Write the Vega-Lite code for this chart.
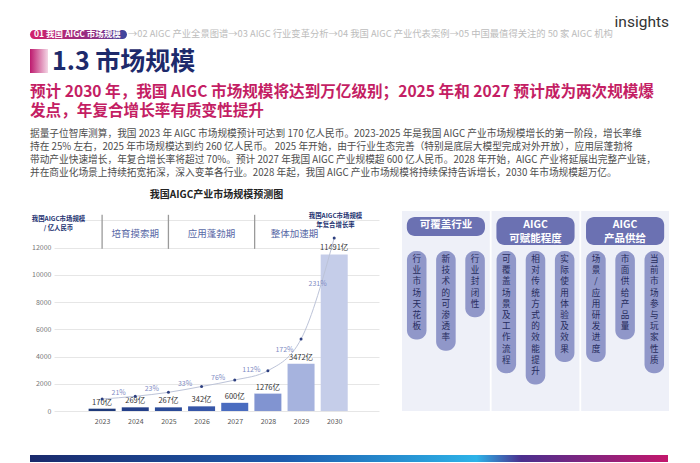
{
  "$schema": "https://vega.github.io/schema/vega-lite/v6.json",
  "background": "white",
  "padding": {"left": 30, "top": 14, "right": 30, "bottom": 0},
  "config": {
    "font": "Noto Sans CJK SC",
    "view": {"stroke": null},
    "axis": {"labelFont": "Noto Sans CJK SC", "titleFont": "Noto Sans CJK SC", "labelOverlap": false, "labelBound": false, "labelFlush": false},
    "axisY": {"labelOverlap": false},
    "title": {"font": "Noto Sans CJK SC"}
  },
  "datasets": {
    "market": [
      {"year": 2023, "size": 170, "label": "170亿", "trend": 880},
      {"year": 2024, "size": 269, "label": "269亿", "trend": 1080},
      {"year": 2025, "size": 267, "label": "267亿", "trend": 1370},
      {"year": 2026, "size": 342, "label": "342亿", "trend": 1800},
      {"year": 2027, "size": 600, "label": "600亿", "trend": 2270},
      {"year": 2028, "size": 1276, "label": "1276亿", "trend": 2960},
      {"year": 2029, "size": 3472, "label": "3472亿", "trend": 5280},
      {"year": 2030, "size": 11491, "label": "11491亿", "trend": 12700}
    ],
    "growth": [
      {"from": 2023, "to": 2024, "rate": "21%"},
      {"from": 2024, "to": 2025, "rate": "23%"},
      {"from": 2025, "to": 2026, "rate": "33%"},
      {"from": 2026, "to": 2027, "rate": "76%"},
      {"from": 2027, "to": 2028, "rate": "112%"},
      {"from": 2028, "to": 2029, "rate": "172%"},
      {"from": 2029, "to": 2030, "rate": "231%"}
    ],
    "phases": [
      {"phase": "培育摸索期", "start": 2023, "end": 2025},
      {"phase": "应用蓬勃期", "start": 2025, "end": 2027.6},
      {"phase": "整体加速期", "start": 2027.6, "end": 2030}
    ],
    "panels": [
      {"panel": "可覆盖行业", "head": ["可覆盖行业"]},
      {"panel": "AIGC可赋能程度", "head": ["AIGC", "可赋能程度"]},
      {"panel": "AIGC产品供给", "head": ["AIGC", "产品供给"]}
    ],
    "factors": [
      {"panel": "可覆盖行业", "k": 1, "factor": "行业市场天花板"},
      {"panel": "可覆盖行业", "k": 2, "factor": "新技术的可渗透率"},
      {"panel": "可覆盖行业", "k": 3, "factor": "行业封闭性"},
      {"panel": "AIGC可赋能程度", "k": 1, "factor": "可覆盖场景及工作流程"},
      {"panel": "AIGC可赋能程度", "k": 2, "factor": "相对传统方式的效能提升"},
      {"panel": "AIGC可赋能程度", "k": 3, "factor": "实际使用体验及效果"},
      {"panel": "AIGC产品供给", "k": 1, "factor": "场景/应用研发进度"},
      {"panel": "AIGC产品供给", "k": 2, "factor": "市面供给产品量"},
      {"panel": "AIGC产品供给", "k": 3, "factor": "当前市场参与玩家性质"}
    ]
  },
  "title": {"text": "insights", "anchor": "end", "font": "Roboto", "fontSize": 15.5, "fontWeight": "normal", "color": "#333333", "offset": 0},
  "spacing": 5,
  "vconcat": [
    {
      "width": 194,
      "height": 14,
      "data": {"values": [
        {"part": "cur", "kind": "nav", "text": "01 我国 AIGC 市场规模"},
        {"part": "rest", "kind": "nav", "text": "→02 AIGC 产业全景图谱→03 AIGC 行业变革分析→04 我国 AIGC 产业代表案例→05 中国最值得关注的 50 家 AIGC 机构"}
      ]},
      "encoding": {
        "y": {"field": "kind", "type": "nominal", "axis": null, "scale": {"paddingOuter": 0.278, "paddingInner": 0, "align": 0}}
      },
      "layer": [
        {
          "transform": [{"filter": "datum.part === 'cur'"}],
          "mark": {"type": "bar", "cornerRadius": 4.5, "color": {"gradient": "linear", "x1": 0, "x2": 1, "y1": 0, "y2": 0, "stops": [{"offset": 0, "color": "#d3226b"}, {"offset": 0.7, "color": "#8a2f86"}, {"offset": 1, "color": "#3a48a0"}]}},
          "encoding": {"x": {"field": "part", "type": "nominal", "sort": ["cur", "rest"], "axis": null, "scale": {"domain": ["cur", "rest"], "paddingInner": 0, "paddingOuter": 0}}}
        },
        {
          "transform": [{"filter": "datum.part === 'cur'"}],
          "mark": {"type": "text", "align": "left", "baseline": "middle", "dx": 4, "color": "white", "fontWeight": "bold", "fontSize": 8.5},
          "encoding": {"x": {"field": "part", "type": "nominal", "bandPosition": 0, "axis": null, "scale": {"domain": ["cur", "rest"], "paddingInner": 0, "paddingOuter": 0}}, "text": {"field": "text", "type": "nominal"}}
        },
        {
          "transform": [{"filter": "datum.part === 'rest'"}],
          "mark": {"type": "text", "align": "left", "baseline": "middle", "dx": 1, "color": "#bcbcbc", "fontSize": 9.3},
          "encoding": {"x": {"field": "part", "type": "nominal", "bandPosition": 0, "axis": null, "scale": {"domain": ["cur", "rest"], "paddingInner": 0, "paddingOuter": 0}}, "text": {"field": "text", "type": "nominal"}}
        }
      ]
    },
    {
      "width": 18,
      "height": 31,
      "data": {"values": [{"title": "1.3 市场规模"}]},
      "encoding": {
        "y": {"field": "title", "type": "nominal", "axis": null, "scale": {"paddingOuter": 0.1458, "paddingInner": 0, "align": 0}}
      },
      "layer": [
        {"mark": {"type": "bar", "color": {"gradient": "linear", "x1": 0, "x2": 1, "y1": 0, "y2": 0, "stops": [{"offset": 0, "color": "#bd1a6e"}, {"offset": 1, "color": "#f4d6e5"}]}},
         "encoding": {"x": {"field": "title", "type": "nominal", "axis": null, "scale": {"paddingInner": 0, "paddingOuter": 0}}}},
        {"mark": {"type": "text", "align": "left", "baseline": "middle", "dx": 4, "dy": 1, "fontSize": 25, "fontWeight": "bold", "color": "#1d2a6b"},
         "encoding": {"x": {"field": "title", "type": "nominal", "bandPosition": 1, "axis": null}, "text": {"field": "title", "type": "nominal"}}}
      ]
    },
    {
      "title": {
        "text": ["预计 2030 年，我国 AIGC 市场规模将达到万亿级别；2025 年和 2027 预计成为两次规模爆", "发点，年复合增长率有质变性提升"],
        "subtitle": [
          "据量子位智库测算，我国 2023 年 AIGC 市场规模预计可达到 170 亿人民币。2023-2025 年是我国 AIGC 产业市场规模增长的第一阶段，增长率维",
          "持在 25% 左右，2025 年市场规模达到约 260 亿人民币。 2025 年开始，由于行业生态完善（特别是底层大模型完成对外开放），应用层蓬勃将",
          "带动产业快速增长，年复合增长率将超过 70%。预计 2027 年我国 AIGC 产业规模超 600 亿人民币。2028 年开始，AIGC 产业将延展出完整产业链，",
          "并在商业化场景上持续拓宽拓深，深入变革各行业。2028 年起，我国 AIGC 产业市场规模将持续保持告诉增长，2030 年市场规模超万亿。"
        ],
        "anchor": "start",
        "fontSize": 15.6,
        "fontWeight": "bold",
        "color": "#c41e64",
        "lineHeight": 19,
        "subtitleFontSize": 9.7,
        "subtitleColor": "#4d4d4d",
        "subtitleLineHeight": 13.2,
        "subtitlePadding": 9,
        "offset": 12
      },
      "spacing": 0,
      "hconcat": [
        {
          "width": 1,
          "height": 1,
          "data": {"values": [{"gap": 0}]},
          "mark": {"type": "point", "size": 0, "opacity": 0},
          "encoding": {}
        },
        {
          "spacing": 23,
          "hconcat": [
            {
              "width": 325,
              "height": 200,
              "title": {"text": "我国AIGC产业市场规模预测图", "fontSize": 10, "fontWeight": "bold", "color": "#222222", "anchor": "middle", "offset": 11},
              "layer": [
                {
                  "layer": [
                    {
                      "data": {"name": "market"},
                      "mark": {"type": "bar", "size": 27},
                      "encoding": {
                        "x": {"field": "year", "type": "quantitative", "scale": {"domain": [2021.7, 2031.2], "nice": false, "zero": false},
                          "axis": {"values": [2023, 2024, 2025, 2026, 2027, 2028, 2029, 2030], "tickCount": 20, "format": "d", "title": null, "grid": false, "domain": false, "ticks": false, "labelColor": "#555555", "labelFontSize": 7, "labelPadding": 6}},
                        "y": {"field": "size", "type": "quantitative", "scale": {"domain": [0, 14680], "nice": false},
                          "axis": {"values": [0, 2000, 4000, 6000, 8000, 10000, 12000, 14000], "tickCount": 20, "format": "d", "labelOverlap": false,
                            "labelColor": {"condition": {"test": "datum.value > 12000", "value": "transparent"}, "value": "#777777"},
                            "title": ["我国AIGC市场规模", "/ 亿人民币"], "titleAngle": 0, "titleAlign": "center", "titleBaseline": "top", "titleX": 4, "titleY": 4,
                            "titleFontSize": 6.4, "titleFontWeight": "bold", "titleColor": "#233271", "titleLineHeight": 9,
                            "grid": true, "gridColor": "#e6e6e6", "domain": false, "ticks": false, "labelFontSize": 7, "labelPadding": 3}},
                        "color": {"field": "year", "type": "ordinal", "legend": null,
                          "scale": {"range": ["#1f3a7a", "#24408a", "#2b4b98", "#3656a8", "#4a6cc0", "#8194d1", "#a6b3de", "#c5cde9"]}}
                      }
                    },
                    {
                      "data": {"name": "market"},
                      "mark": {"type": "text", "baseline": "bottom", "dy": -2, "fontSize": 7.5, "color": "#333333"},
                      "encoding": {
                        "x": {"field": "year", "type": "quantitative"},
                        "y": {"field": "size", "type": "quantitative"},
                        "text": {"field": "label", "type": "nominal"}
                      }
                    },
                    {
                      "data": {"name": "phases"},
                      "mark": {"type": "rule", "color": "#9a9a9a", "strokeWidth": 1.3},
                      "encoding": {
                        "x": {"field": "start", "type": "quantitative"},
                        "y": {"datum": 14400, "type": "quantitative"},
                        "y2": {"datum": 11900}
                      }
                    },
                    {
                      "data": {"name": "phases"},
                      "transform": [{"fold": ["start", "end"], "as": ["edge", "pos"]}],
                      "mark": {"type": "text", "fontSize": 9.5, "color": "#5868a6", "baseline": "middle"},
                      "encoding": {
                        "x": {"aggregate": "mean", "field": "pos", "type": "quantitative"},
                        "y": {"datum": 13000, "type": "quantitative"},
                        "text": {"field": "phase", "type": "nominal"}
                      }
                    }
                  ]
                },
                {
                  "layer": [
                    {
                      "data": {"name": "market"},
                      "mark": {"type": "line", "interpolate": "monotone", "color": "#bcc3d8", "strokeWidth": 1},
                      "encoding": {
                        "x": {"field": "year", "type": "quantitative"},
                        "y": {"field": "trend", "type": "quantitative", "scale": {"domain": [0, 14680], "nice": false},
                          "axis": {"orient": "right", "title": ["我国AIGC市场规模", "年复合增长率"], "labels": false, "ticks": false, "domain": false, "grid": false,
                            "titleAngle": 0, "titleAlign": "center", "titleBaseline": "top", "titleX": -44, "titleY": 1,
                            "titleFontSize": 6.4, "titleFontWeight": "bold", "titleColor": "#233271", "titleLineHeight": 9}}
                      }
                    },
                    {
                      "data": {"name": "market"},
                      "mark": {"type": "point", "filled": true, "size": 9, "color": "#2d3f7f", "opacity": 1},
                      "encoding": {
                        "x": {"field": "year", "type": "quantitative"},
                        "y": {"field": "trend", "type": "quantitative"}
                      }
                    },
                    {
                      "data": {"name": "growth"},
                      "transform": [
                        {"fold": ["from", "to"], "as": ["end", "yr"]},
                        {"lookup": "yr", "from": {"data": {"name": "market"}, "key": "year", "fields": ["trend"]}}
                      ],
                      "mark": {"type": "text", "fontSize": 7, "color": "#7f8cc4", "dy": -5},
                      "encoding": {
                        "x": {"aggregate": "mean", "field": "yr", "type": "quantitative"},
                        "y": {"aggregate": "mean", "field": "trend", "type": "quantitative"},
                        "text": {"field": "rate", "type": "nominal"}
                      }
                    }
                  ]
                }
              ],
              "resolve": {"scale": {"y": "independent"}}
            },
            {
              "width": 267,
              "height": 239,
              "layer": [
                {
                  "data": {"name": "panels"},
                  "mark": {"type": "bar", "color": "#eef0f8"},
                  "encoding": {
                    "x": {"field": "panel", "type": "nominal", "sort": null, "axis": null, "scale": {"paddingInner": 0.02, "paddingOuter": 0}},
                    "y": {"datum": 0, "type": "quantitative", "axis": null, "scale": {"domain": [0, 21.73], "reverse": true, "nice": false, "zero": false}},
                    "y2": {"datum": 18.18}
                  }
                },
                {
                  "data": {"name": "panels"},
                  "transform": [{"calculate": "1.45 + 0.82 * length(datum.head)", "as": "hb"}],
                  "mark": {"type": "bar", "color": "#6b71b2", "cornerRadius": 8, "width": {"band": 0.89}},
                  "encoding": {
                    "x": {"field": "panel", "type": "nominal", "sort": null, "axis": null},
                    "y": {"field": "hb", "type": "quantitative", "axis": null},
                    "y2": {"datum": 0.55}
                  }
                },
                {
                  "data": {"name": "panels"},
                  "mark": {"type": "text", "baseline": "top", "dy": 3, "fontSize": 10.5, "fontWeight": "bold", "color": "white", "lineHeight": 13.8},
                  "encoding": {
                    "x": {"field": "panel", "type": "nominal", "sort": null, "axis": null},
                    "y": {"datum": 0.55, "type": "quantitative", "axis": null},
                    "text": {"field": "head", "type": "nominal"}
                  }
                },
                {
                  "data": {"name": "factors"},
                  "transform": [{"calculate": "4.55 + 1.02 * length(datum.factor)", "as": "pe"}],
                  "mark": {"type": "bar", "color": "#9097c9", "cornerRadius": 9},
                  "encoding": {
                    "x": {"field": "panel", "type": "nominal", "sort": null, "axis": null},
                    "xOffset": {"field": "k", "type": "nominal", "scale": {"paddingInner": 0.33, "paddingOuter": 0.17}},
                    "y": {"field": "pe", "type": "quantitative", "axis": null},
                    "y2": {"datum": 3.64}
                  }
                },
                {
                  "data": {"name": "factors"},
                  "mark": {"type": "text", "baseline": "top", "dy": 4, "fontSize": 8.6, "lineHeight": 11.2, "color": "#262b5c", "lineBreak": {"expr": "regexp('')"}},
                  "encoding": {
                    "x": {"field": "panel", "type": "nominal", "sort": null, "axis": null},
                    "xOffset": {"field": "k", "type": "nominal"},
                    "y": {"datum": 3.64, "type": "quantitative", "axis": null},
                    "text": {"field": "factor", "type": "nominal"}
                  }
                }
              ]
            }
          ]
        }
      ]
    },
    {
      "width": 638,
      "height": 7,
      "data": {"values": [{"band": "footer"}]},
      "mark": {"type": "bar", "color": {"gradient": "linear", "x1": 0, "x2": 1, "y1": 0, "y2": 0, "stops": [{"offset": 0, "color": "#1a2a6c"}, {"offset": 0.4, "color": "#1d5cae"}, {"offset": 0.7, "color": "#2db3e8"}, {"offset": 0.77, "color": "#4b2f8e"}, {"offset": 1, "color": "#c3176c"}]}},
      "encoding": {"x": {"field": "band", "type": "nominal", "axis": null, "scale": {"paddingInner": 0, "paddingOuter": 0}}}
    }
  ]
}
